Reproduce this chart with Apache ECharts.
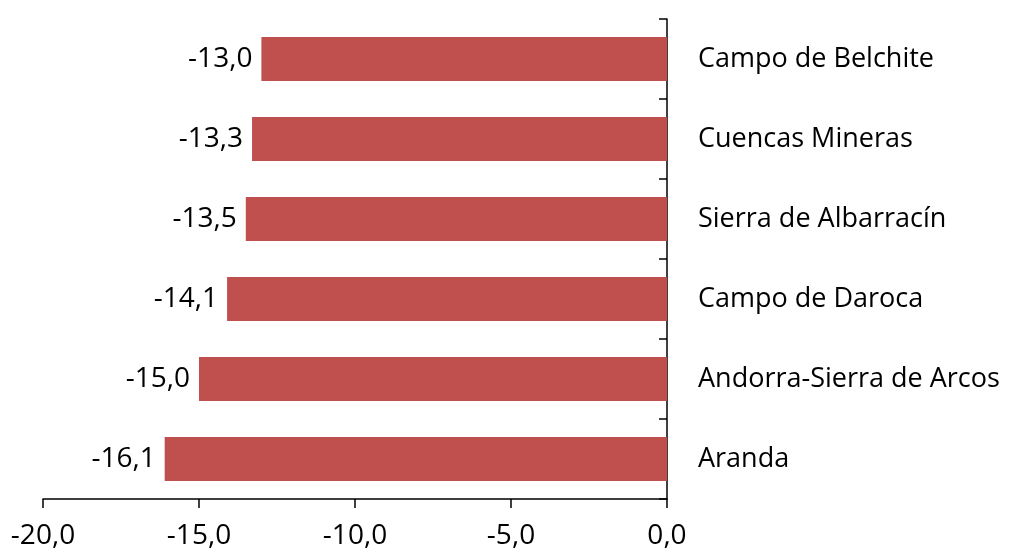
<!DOCTYPE html>
<html>
<head>
<meta charset="utf-8">
<script src="https://cdn.jsdelivr.net/npm/echarts@6/dist/echarts.min.js"></script>
<style>
  html, body { margin: 0; padding: 0; background: #fff; }
  #chart { width: 1013px; height: 556px; }
</style>
</head>
<body>
<div id="chart"></div>
<script>
// categories, bottom to top
const categories = ['Aranda', 'Andorra-Sierra de Arcos', 'Campo de Daroca', 'Sierra de Albarracín', 'Cuencas Mineras', 'Campo de Belchite']
const values = [-16.1, -15.0, -14.1, -13.5, -13.3, -13.0]

const fmt = (v) => v.toFixed(1).replace('.', ',')
const font = '"Open Sans", Lato, sans-serif'

const chart = echarts.init(document.getElementById('chart'))
chart.setOption({
  animation: false,
  grid: { left: 43, right: 346, top: 19, bottom: 57, containLabel: false },
  xAxis: {
    type: 'value',
    min: -20,
    max: 0,
    interval: 5,
    splitLine: { show: false },
    axisLine: { show: true, lineStyle: { color: '#000', width: 1.5 } },
    axisTick: { show: true, length: 9, lineStyle: { color: '#000', width: 1.5 } },
    axisLabel: { color: '#000', fontSize: 28, fontFamily: font, margin: 23, formatter: fmt }
  },
  yAxis: {
    type: 'category',
    data: categories,
    position: 'right',
    axisLine: { show: true, onZero: false, lineStyle: { color: '#000', width: 1.5 } },
    axisTick: { show: true, inside: true, length: 8, lineStyle: { color: '#000', width: 1.5 } },
    axisLabel: { color: '#000', fontSize: 27, fontFamily: font, margin: 31, align: 'left' }
  },
  series: [{
    type: 'bar',
    data: values,
    barWidth: '55%',
    itemStyle: { color: '#C0504D' },
    label: {
      show: true,
      position: 'left',
      distance: 9,
      color: '#000',
      fontSize: 28,
      fontFamily: font,
      formatter: (p) => fmt(p.value)
    }
  }]
})
</script>
</body>
</html>
